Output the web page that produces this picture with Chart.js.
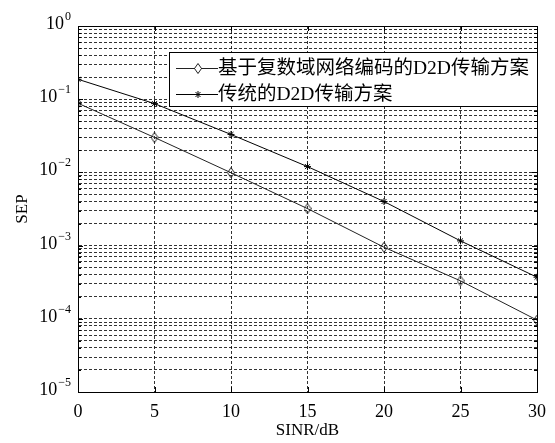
<!DOCTYPE html>
<html>
<head>
<meta charset="utf-8">
<script src="https://cdn.jsdelivr.net/npm/chart.js@4.4.1/dist/chart.umd.min.js"></script>
<style>
  html, body { margin: 0; padding: 0; background: #fff; }
  #wrap { width: 555px; height: 443px; }
</style>
</head>
<body>
<div id="wrap"><canvas id="sepChart"></canvas></div>
<script>
// SINR values (dB) on the x axis
const snr = [0, 5, 10, 15, 20, 25, 30];
// symbol error probability
const sepProposed = [0.088, 0.030, 0.0099, 0.0032, 0.00095, 0.00033, 0.000096];
const sepTraditional = [0.187, 0.087, 0.033, 0.012, 0.0040, 0.00116, 0.00037];
const seriesNames = ['基于复数域网络编码的D2D传输方案', '传统的D2D传输方案'];
// decades shown on the y axis
const yTickExps = [0, -1, -2, -3, -4, -5];

const serif = '"Liberation Serif", "Times New Roman", "Noto Sans CJK SC", serif';
const gridStyle = {
    color: 'rgba(0,0,0,0.8)',
    lineWidth: 1,
    drawTicks: false
};

// y ticks: 1..9 per decade
function logTicks() {
    const t = [];
    for (let e = -5; e < 0; e++) {
        for (let m = 1; m <= 9; m++) t.push({ value: m * Math.pow(10, e) });
    }
    t.push({ value: 1 });
    return t;
}

// tall diamond like matlab's 'd' marker
function diamondMarker() {
    const c = document.createElement('canvas');
    c.width = 8; c.height = 11;
    const g = c.getContext('2d');
    g.strokeStyle = '#222';
    g.lineWidth = 1;
    g.beginPath();
    g.moveTo(4, 0.5); g.lineTo(7.5, 5.5); g.lineTo(4, 10.5); g.lineTo(0.5, 5.5);
    g.closePath();
    g.stroke();
    return c;
}
const diamond = diamondMarker();

// box, inner ticks, superscript labels and legend
const matlabLook = {
    id: 'matlabLook',
    afterDraw(chart) {
        const ctx = chart.ctx;
        const a = chart.chartArea;
        const xs = chart.scales.x;
        const ys = chart.scales.y;
        ctx.save();
        ctx.strokeStyle = '#000';
        ctx.lineWidth = 1;
        ctx.setLineDash([]);
        ctx.strokeRect(Math.round(a.left) + 0.5, Math.round(a.top) + 0.5,
            Math.round(a.right - a.left), Math.round(a.bottom - a.top));

        // inner tick marks
        ctx.beginPath();
        xs.ticks.forEach(t => {
            const px = Math.round(xs.getPixelForValue(t.value)) + 0.5;
            ctx.moveTo(px, a.bottom); ctx.lineTo(px, a.bottom - 5);
            ctx.moveTo(px, a.top); ctx.lineTo(px, a.top + 5);
        });
        ys.ticks.forEach(t => {
            const py = Math.round(ys.getPixelForValue(t.value)) + 0.5;
            const major = Math.abs(Math.log10(t.value) - Math.round(Math.log10(t.value))) < 1e-9;
            const len = major ? 5 : 3;
            ctx.moveTo(a.left, py); ctx.lineTo(a.left + len, py);
            ctx.moveTo(a.right, py); ctx.lineTo(a.right - len, py);
        });
        ctx.stroke();

        // y labels 10^n
        ctx.fillStyle = '#000';
        ctx.textBaseline = 'alphabetic';
        ctx.textAlign = 'left';
        yTickExps.forEach(e => {
            const py = ys.getPixelForValue(Math.pow(10, e));
            const exp = e < 0 ? '\u2212' + Math.abs(e) : String(e);
            ctx.font = '18px ' + serif;
            const wBase = ctx.measureText('10').width;
            ctx.font = '12px ' + serif;
            const wExp = ctx.measureText(exp).width;
            const x0 = 70 - wBase - wExp;
            ctx.font = '18px ' + serif;
            ctx.fillText('10', x0, py + 3);
            ctx.font = '12px ' + serif;
            ctx.fillText(exp, x0 + wBase + 1, py - 6);
        });

        // legend
        const box = { x: 169.5, y: 52.5, w: 368, h: 54 };
        ctx.fillStyle = '#fff';
        ctx.fillRect(box.x, box.y, box.w, box.h);
        ctx.strokeStyle = '#000';
        ctx.strokeRect(box.x, box.y, box.w, box.h);
        const rows = [68, 94];
        chart.data.datasets.forEach((ds, i) => {
            const y = rows[i] + 0.5;
            ctx.strokeStyle = ds.borderColor;
            ctx.lineWidth = 1;
            ctx.beginPath();
            ctx.moveTo(176, y); ctx.lineTo(218, y);
            ctx.stroke();
            if (ds.pointStyle === diamond) {
                ctx.fillStyle = '#fff';
                ctx.fillRect(195, y - 5, 6, 10);
            }
            Chart.helpers.drawPoint(ctx, {
                pointStyle: ds.pointStyle,
                radius: ds.pointRadius,
                borderWidth: 1
            }, 198, y);
            ctx.fillStyle = '#000';
            ctx.font = '19.5px ' + serif;
            ctx.textBaseline = 'middle';
            ctx.fillText(ds.label, 218, rows[i] + 1);
        });
        ctx.restore();
    }
};

const config = {
    type: 'line',
    data: {
        labels: snr,
        datasets: [{
            label: seriesNames[0],
            data: sepProposed,
            borderColor: '#222',
            backgroundColor: '#fff',
            borderWidth: 1,
            pointStyle: diamond,
            pointRadius: 4,
            tension: 0
        }, {
            label: seriesNames[1],
            data: sepTraditional,
            borderColor: '#000',
            backgroundColor: '#000',
            borderWidth: 1,
            pointStyle: 'star',
            pointRadius: 3.5,
            pointBorderWidth: 1,
            pointBorderColor: '#000',
            tension: 0
        }]
    },
    options: {
        responsive: true,
        maintainAspectRatio: false,
        animation: false,
        layout: { padding: { left: 0, right: 9, top: 26, bottom: 0 } },
        plugins: {
            legend: { display: false },
            tooltip: { enabled: false }
        },
        scales: {
            x: {
                type: 'linear',
                min: 0,
                max: 30,
                ticks: {
                    stepSize: 5,
                    padding: 9,
                    color: '#000',
                    font: { family: serif, size: 18 }
                },
                grid: Object.assign({}, gridStyle),
                border: { display: true, color: '#000', dash: [3, 2] },
                title: {
                    display: true,
                    text: 'SINR/dB',
                    color: '#000',
                    font: { family: serif, size: 17 },
                    padding: { top: 0, bottom: 2 }
                },
                afterFit(scale) { scale.height = 51; }
            },
            y: {
                type: 'logarithmic',
                min: 1e-5,
                max: 1,
                afterBuildTicks(scale) { scale.ticks = logTicks(); },
                ticks: {
                    autoSkip: false,
                    callback: () => ''
                },
                grid: Object.assign({}, gridStyle),
                border: { display: true, color: '#000', dash: [3, 2] },
                title: {
                    display: true,
                    text: 'SEP',
                    color: '#000',
                    font: { family: serif, size: 17 },
                    padding: { top: 12, bottom: 0 }
                },
                afterFit(scale) { scale.width = 78; }
            }
        }
    },
    plugins: [matlabLook]
};

const sepChart = new Chart(document.getElementById('sepChart'), config);
</script>
</body>
</html>
